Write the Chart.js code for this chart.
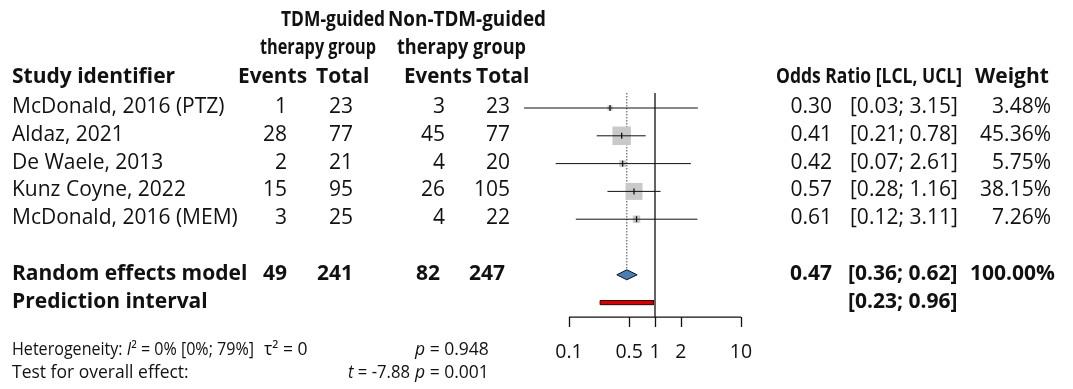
<!DOCTYPE html>
<html>
<head>
<meta charset="utf-8">
<script src="https://cdn.jsdelivr.net/npm/chart.js@4.4.1/dist/chart.umd.min.js"></script>
<style>
  html, body { margin: 0; padding: 0; background: #ffffff; }
  #wrap { width: 1073px; height: 389px; position: relative; }
</style>
</head>
<body>
<div id="wrap"><canvas id="forest" width="1073" height="389"></canvas></div>
<script>
// Study-level data
const studies = ["McDonald, 2016 (PTZ)", "Aldaz, 2021", "De Waele, 2013", "Kunz Coyne, 2022", "McDonald, 2016 (MEM)"];
const tdmEvents = [1, 28, 2, 15, 3];
const tdmTotal = [23, 77, 21, 95, 25];
const ctrlEvents = [3, 45, 4, 26, 4];
const ctrlTotal = [23, 77, 20, 105, 22];
const oddsRatio = [0.30, 0.41, 0.42, 0.57, 0.61];
const lcl = [0.03, 0.21, 0.07, 0.28, 0.12];
const ucl = [3.15, 0.78, 2.61, 1.16, 3.11];
const weight = [3.48, 45.36, 5.75, 38.15, 7.26];

// Pooled estimate and prediction interval
const pooledEvents = [49, 241, 82, 247];
const pooledOR = 0.47;
const pooledLCL = 0.36;
const pooledUCL = 0.62;
const pooledWeight = 100.00;
const predLCL = 0.23;
const predUCL = 0.96;

// Axis ticks
const tickValues = [0.1, 0.5, 1, 2, 10];
const tickLabels = ["0.1", "0.5", "1", "2", "10"];

// Row slots on the vertical scale
const studyRows = [0, 1, 2, 3, 4];
const pooledRow = 6;
const predRow = 7;
const axisRow = 7.52;

// Layout of the plot panel within the canvas
const ONE_PX = 655;      // pixel where OR = 1 sits
const DECADE_PX = 86;    // pixels per decade
const ROW0_PX = 108;
const ROW_PX = 27.8;
const W = 1073, H = 389;

const FONT = "'Open Sans', sans-serif";
const INK = "#111111";

const fmt2 = v => v.toFixed(2);

// Build datasets
const ciData = [];
studyRows.forEach((r, i) => {
  ciData.push({x: lcl[i], y: r}, {x: ucl[i], y: r}, {x: NaN, y: NaN});
});
const sqSide = weight.map(w => 18.5 * Math.sqrt(w / 45.36));
const diamondHalf = 0.18;
const predHalf = 0.075;

const datasets = [
  { // weighted squares
    type: 'scatter',
    data: studyRows.map((r, i) => ({x: oddsRatio[i], y: r})),
    pointStyle: 'rect',
    pointRadius: sqSide.map(s => s / Math.SQRT2),
    backgroundColor: '#c9c9c9',
    borderWidth: 0,
    order: 5
  },
  { // confidence intervals
    type: 'line',
    data: ciData,
    borderColor: '#111111',
    borderWidth: 1,
    pointRadius: 0,
    spanGaps: false,
    order: 4
  },
  { // point-estimate ticks
    type: 'scatter',
    data: studyRows.map((r, i) => ({x: oddsRatio[i], y: r})),
    pointStyle: 'line',
    rotation: 90,
    pointRadius: 3,
    borderColor: '#111111',
    borderWidth: 1.3,
    order: 3
  },
  { // line of no effect
    type: 'line',
    data: [{x: 1, y: -0.54}, {x: 1, y: axisRow}],
    borderColor: '#111111',
    borderWidth: 1.3,
    pointRadius: 0,
    order: 2
  },
  { // pooled estimate reference (dotted)
    type: 'line',
    data: [{x: pooledOR, y: -0.54}, {x: pooledOR, y: pooledRow - diamondHalf}],
    borderColor: '#444444',
    borderWidth: 1,
    borderDash: [1.5, 1.5],
    pointRadius: 0,
    order: 6
  },
  { // pooled diamond
    type: 'line',
    data: [
      {x: pooledLCL, y: pooledRow}, {x: pooledOR, y: pooledRow - diamondHalf},
      {x: pooledUCL, y: pooledRow}, {x: pooledOR, y: pooledRow + diamondHalf},
      {x: pooledLCL, y: pooledRow}
    ],
    fill: 'shape',
    backgroundColor: '#4a7fb5',
    borderColor: '#111111',
    borderWidth: 1,
    pointRadius: 0,
    tension: 0,
    order: 1
  },
  { // prediction interval bar
    type: 'line',
    data: [
      {x: predLCL, y: predRow - predHalf}, {x: predUCL, y: predRow - predHalf},
      {x: predUCL, y: predRow + predHalf}, {x: predLCL, y: predRow + predHalf},
      {x: predLCL, y: predRow - predHalf}
    ],
    fill: 'shape',
    backgroundColor: '#d40000',
    borderColor: '#3a0000',
    borderWidth: 1,
    pointRadius: 0,
    tension: 0,
    order: 1
  }
];

// Draw one string; maxW squeezes it horizontally when given
function text(ctx, s, x, y, align, bold, size, maxW) {
  ctx.font = (bold ? '700 ' : '400 ') + size + 'px ' + FONT;
  ctx.textAlign = align || 'left';
  if (maxW) ctx.fillText(s, x, y, maxW); else ctx.fillText(s, x, y);
}

// Draw a run of mixed upright/italic pieces; anchored left, or right when
// alignRight is set; squeezed to maxW when wider
function runs(ctx, pieces, x, y, size, maxW, alignRight) {
  const fontOf = p => (p.i ? 'italic ' : '') + size + 'px ' + FONT;
  let total = 0;
  pieces.forEach(p => { ctx.font = fontOf(p); total += ctx.measureText(p.t).width; });
  const k = maxW && total > maxW ? maxW / total : 1;
  const start = alignRight ? x - total * k : x;
  ctx.save();
  ctx.translate(start, y);
  ctx.scale(k, 1);
  let cx = 0;
  pieces.forEach(p => {
    ctx.font = fontOf(p);
    ctx.textAlign = 'left';
    ctx.fillText(p.t, cx, 0);
    cx += ctx.measureText(p.t).width;
  });
  ctx.restore();
}

const tablePlugin = {
  id: 'forestTable',
  afterDraw(chart) {
    const ctx = chart.ctx;
    const xs = chart.scales.x, ys = chart.scales.y;
    const rowY = r => ys.getPixelForValue(r);
    ctx.save();
    ctx.fillStyle = INK;
    ctx.textBaseline = 'middle';
    const fs = 21;

    // column headers
    text(ctx, "TDM-guided", 281, 20, 'left', true, fs, 104);
    text(ctx, "Non-TDM-guided", 388, 20, 'left', true, fs, 158);
    text(ctx, "therapy group", 260, 48, 'left', true, fs, 116);
    text(ctx, "therapy group", 397, 48, 'left', true, fs, 129);
    text(ctx, "Study identifier", 12, 77, 'left', true, fs);
    text(ctx, "Events", 238, 77, 'left', true, fs, 69);
    text(ctx, "Total", 316, 77, 'left', true, fs, 54);
    text(ctx, "Events", 404, 77, 'left', true, fs, 68);
    text(ctx, "Total", 476, 77, 'left', true, fs, 54);
    text(ctx, "Odds Ratio [LCL, UCL]", 776, 77, 'left', true, fs, 186);
    text(ctx, "Weight", 975, 77, 'left', true, fs, 90);

    // study rows
    studyRows.forEach((r, i) => {
      const y = rowY(r) - 1;
      text(ctx, studies[i], 12, y, 'left', false, fs);
      text(ctx, String(tdmEvents[i]), 287, y, 'right', false, fs);
      text(ctx, String(tdmTotal[i]), 353, y, 'right', false, fs);
      text(ctx, String(ctrlEvents[i]), 445, y, 'right', false, fs);
      text(ctx, String(ctrlTotal[i]), 510, y, 'right', false, fs);
      text(ctx, fmt2(oddsRatio[i]), 832, y, 'right', false, fs);
      text(ctx, '[' + fmt2(lcl[i]) + '; ' + fmt2(ucl[i]) + ']', 850, y, 'left', false, fs, 114);
      text(ctx, fmt2(weight[i]) + '%', 1051, y, 'right', false, fs);
    });

    // pooled rows
    let y = rowY(pooledRow) - 1;
    text(ctx, "Random effects model", 12, y, 'left', true, fs);
    text(ctx, String(pooledEvents[0]), 287, y, 'right', true, fs);
    text(ctx, String(pooledEvents[1]), 353, y, 'right', true, fs);
    text(ctx, String(pooledEvents[2]), 440, y, 'right', true, fs);
    text(ctx, String(pooledEvents[3]), 505, y, 'right', true, fs);
    text(ctx, fmt2(pooledOR), 832, y, 'right', true, fs);
    text(ctx, '[' + fmt2(pooledLCL) + '; ' + fmt2(pooledUCL) + ']', 848, y, 'left', true, fs, 112);
    text(ctx, pooledWeight.toFixed(2) + '%', 1055, y, 'right', true, fs, 93);
    y = rowY(predRow) - 1;
    text(ctx, "Prediction interval", 12, y, 'left', true, fs);
    text(ctx, '[' + fmt2(predLCL) + '; ' + fmt2(predUCL) + ']', 848, y, 'left', true, fs, 112);

    // x axis
    const ay = rowY(axisRow);
    const x0 = xs.getPixelForValue(tickValues[0]);
    const x1 = xs.getPixelForValue(tickValues[tickValues.length - 1]);
    ctx.strokeStyle = '#111111';
    ctx.lineWidth = 1.3;
    ctx.beginPath();
    ctx.moveTo(x0, ay); ctx.lineTo(x1, ay);
    tickValues.forEach(v => {
      const tx = Math.round(xs.getPixelForValue(v)) + 0.5;
      ctx.moveTo(tx, ay); ctx.lineTo(tx, ay + 10);
    });
    ctx.stroke();
    tickValues.forEach((v, k) => {
      text(ctx, tickLabels[k], xs.getPixelForValue(v), 352, 'center', false, 19.5);
    });

    // heterogeneity and overall test
    const bs = 17.5;
    runs(ctx, [{t: "Heterogeneity: "}, {t: "I", i: true}, {t: "² = 0% [0%; 79%]"}], 12, 350, bs, 242);
    runs(ctx, [{t: "τ² = 0"}], 264, 350, bs);
    runs(ctx, [{t: "p", i: true}, {t: " = 0.948"}], 415, 350, bs);
    runs(ctx, [{t: "Test for overall effect:"}], 12, 373, bs, 182);
    runs(ctx, [{t: "t", i: true}, {t: " = -7.88"}], 410, 373, bs, 62, true);
    runs(ctx, [{t: "p", i: true}, {t: " = 0.001"}], 415, 373, bs);
    ctx.restore();
  }
};

new Chart(document.getElementById('forest'), {
  data: { datasets },
  options: {
    responsive: false,
    devicePixelRatio: 1,
    animation: false,
    events: [],
    layout: { padding: 0, autoPadding: false },
    plugins: { legend: { display: false }, tooltip: { enabled: false } },
    scales: {
      x: {
        type: 'logarithmic',
        display: false,
        bounds: 'data',
        min: Math.pow(10, -ONE_PX / DECADE_PX),
        max: Math.pow(10, (W - ONE_PX) / DECADE_PX)
      },
      y: {
        type: 'linear',
        display: false,
        reverse: true,
        bounds: 'data',
        min: -ROW0_PX / ROW_PX,
        max: (H - ROW0_PX) / ROW_PX
      }
    }
  },
  plugins: [tablePlugin]
});
</script>
</body>
</html>
